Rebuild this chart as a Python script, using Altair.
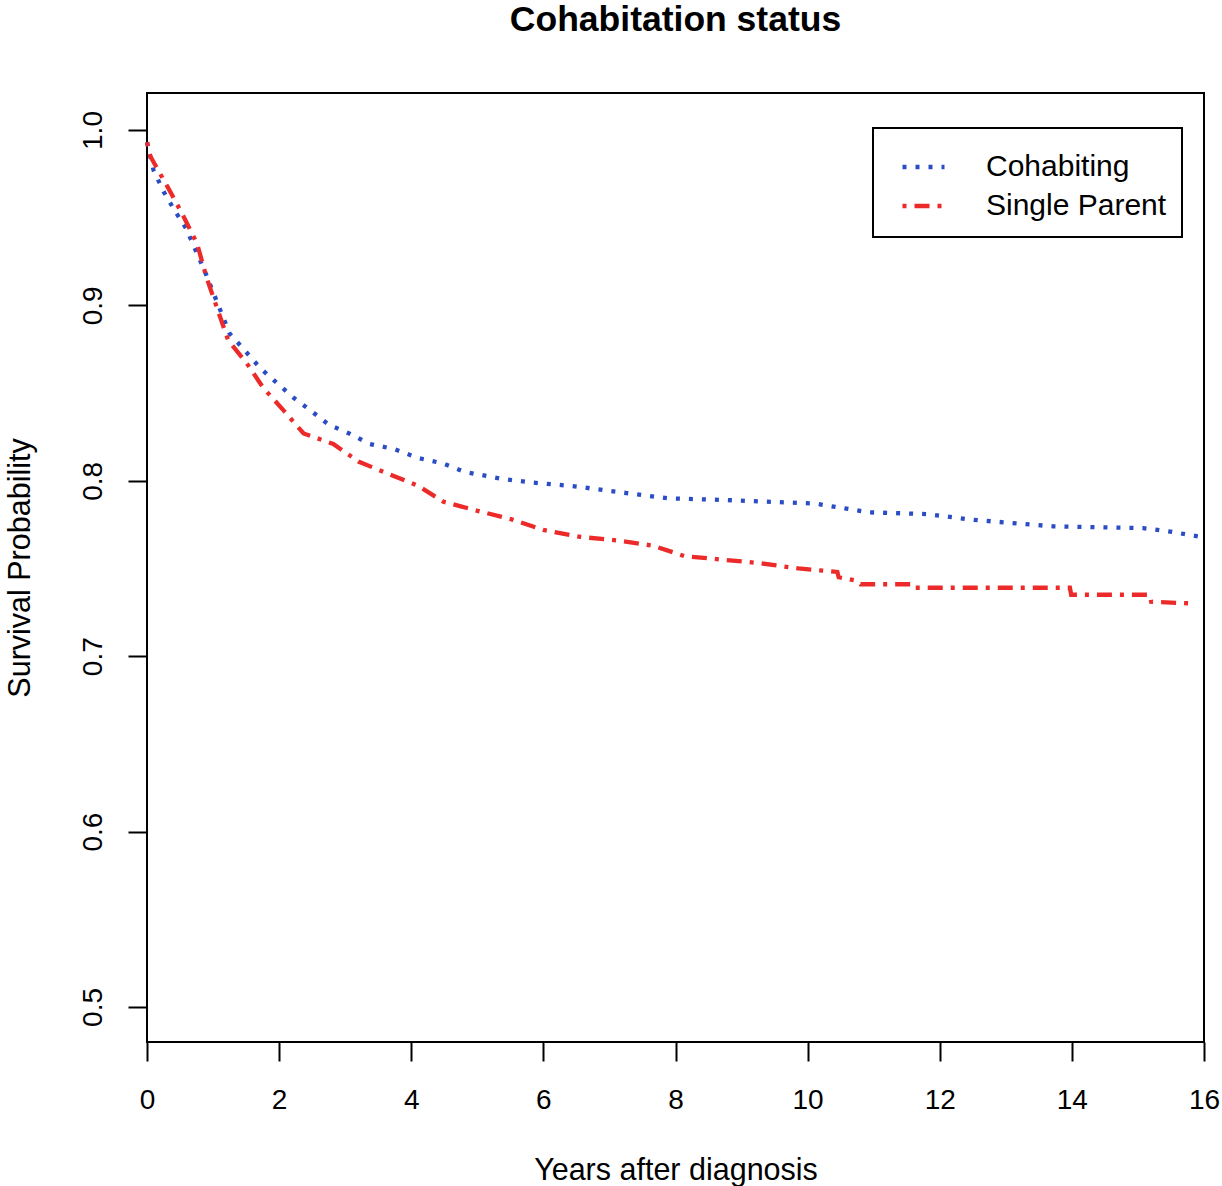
import altair as alt
import pandas as pd

# Cohabiting (blue, dotted)
coh_t = [0.0, 0.1, 0.25, 0.42, 0.59, 0.73, 0.88, 1.07, 1.25, 1.51, 1.72, 1.96,
         2.23, 2.48, 2.75, 3.06, 3.37, 3.75, 4.1, 4.47, 4.81, 5.39, 5.82, 6.44,
         7.26, 7.89, 8.78, 10.11, 10.93, 11.82, 12.43, 13.06, 13.72, 15.08,
         15.49, 15.95]
coh_v = [0.993, 0.977, 0.965, 0.954, 0.944, 0.932, 0.919, 0.901, 0.884, 0.873,
         0.864, 0.856, 0.847, 0.840, 0.832, 0.827, 0.821, 0.818, 0.813, 0.810,
         0.805, 0.801, 0.799, 0.797, 0.793, 0.790, 0.789, 0.787, 0.782, 0.781,
         0.778, 0.776, 0.774, 0.773, 0.771, 0.768]

# Single Parent (red, dot-dash)
sp_t = [0.0, 0.05, 0.32, 0.55, 0.76, 0.90, 1.065, 1.23, 1.51, 1.76, 2.07, 2.37,
        2.82, 3.20, 3.65, 4.11, 4.49, 4.99, 5.52, 6.0, 6.56, 7.11, 7.66, 8.14,
        8.72, 9.28, 9.86, 10.45, 10.47, 10.75, 10.8, 11.6, 11.62, 13.97, 13.99,
        15.18, 15.2, 15.86]
sp_v = [0.993, 0.985, 0.967, 0.951, 0.935, 0.916, 0.898, 0.880, 0.867, 0.853,
        0.840, 0.827, 0.821, 0.811, 0.804, 0.797, 0.788, 0.783, 0.778, 0.772,
        0.768, 0.766, 0.763, 0.757, 0.755, 0.753, 0.750, 0.748, 0.745, 0.743,
        0.741, 0.741, 0.739, 0.739, 0.735, 0.735, 0.731, 0.730]

groups = ["Cohabiting", "Single Parent"]
colors = ["#2a4cc4", "#ec2a2a"]
dashes = [[4, 9], [4, 8, 15, 8]]

x_ticks = [0, 2, 4, 6, 8, 10, 12, 14, 16]
y_ticks = [0.5, 0.6, 0.7, 0.8, 0.9, 1.0]

rows = []
for i, (t, v) in enumerate(zip(coh_t, coh_v)):
    rows.append({"t": t, "surv": v, "group": groups[0], "idx": i})
for i, (t, v) in enumerate(zip(sp_t, sp_v)):
    rows.append({"t": t, "surv": v, "group": groups[1], "idx": i})
df = pd.DataFrame(rows)

FONT = "Liberation Sans"

chart = alt.Chart(df).mark_line(strokeWidth=4.3).encode(
    x=alt.X("t:Q",
            scale=alt.Scale(domain=[0, 16], nice=False, zero=False),
            axis=alt.Axis(values=x_ticks, format="d", tickSize=19, tickWidth=2,
                          tickColor="black", domain=False, grid=False,
                          labelFont=FONT, labelFontSize=28, labelColor="black",
                          labelPadding=25, labelFlush=False,
                          title="Years after diagnosis", titleFont=FONT,
                          titleFontSize=30.5, titleFontWeight="normal",
                          titleColor="black", titleX=528.5, titleY=128,
                          titleAlign="center", titleBaseline="middle")),
    y=alt.Y("surv:Q",
            scale=alt.Scale(domain=[0.48, 1.0211], nice=False, zero=False),
            axis=alt.Axis(values=y_ticks, format=".1f", tickSize=19, tickWidth=2,
                          tickColor="black", domain=False, grid=False,
                          labelFont=FONT, labelFontSize=28, labelColor="black",
                          labelAngle=270, labelAlign="center",
                          labelBaseline="bottom", labelPadding=21,
                          labelFlush=False,
                          title="Survival Probability", titleFont=FONT,
                          titleFontSize=30.5, titleFontWeight="normal",
                          titleColor="black", titleAngle=270, titleX=-127,
                          titleY=474.5, titleAlign="center",
                          titleBaseline="middle")),
    color=alt.Color("group:N",
                    scale=alt.Scale(domain=groups, range=colors),
                    legend=alt.Legend(title=None)),
    strokeDash=alt.StrokeDash("group:N",
                              scale=alt.Scale(domain=groups, range=dashes),
                              legend=alt.Legend(title=None)),
    order=alt.Order("idx:Q"),
).properties(
    width=1057,
    height=949,
    autosize=alt.AutoSizeParams(type="none"),
    padding={"left": 147, "top": 93, "right": 18, "bottom": 144},
    title=alt.TitleParams("Cohabitation status", font=FONT, fontSize=35.5,
                          fontWeight="bold", color="black", anchor="middle",
                          frame="group", offset=55),
).configure_view(
    stroke="black", strokeWidth=2
).configure_legend(
    orient="none", legendX=726, legendY=35,
    fillColor="white", strokeColor="black", strokeWidth=2,
    padding=15.5, symbolType="stroke", symbolSize=1764, symbolStrokeWidth=4.3,
    symbolOffset=11.5, labelOffset=39, labelFont=FONT, labelFontSize=30,
    labelColor="black", rowPadding=0, labelLimit=400,
)

chart.save("out.html", embed_options={"renderer": "svg", "actions": False})
